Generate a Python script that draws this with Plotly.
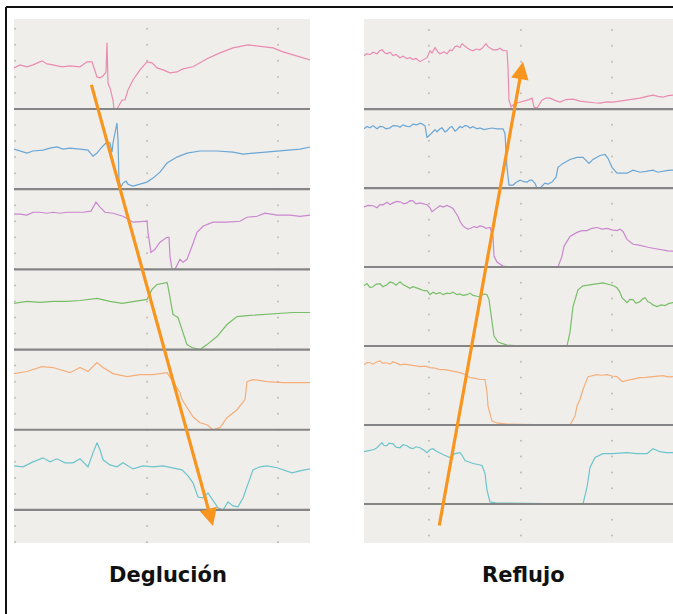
import numpy as np
import plotly.graph_objects as go

W, H = 673, 614

channels = ["Canal 1", "Canal 2", "Canal 3", "Canal 4", "Canal 5", "Canal 6"]
colors = ["#e98bb1", "#6aa6d6", "#c987cf", "#78be69", "#f5ae7a", "#6cc4cc"]

# ---------------- Deglución (swallow) ----------------
sw_t1 = [0,6,13,19,28,33,39,48,56,66,73,78,83,86,89,92,93,94,96,98,99,100,103,108,111,114,119,126,133,138,143,149,156,163,169,179,193,206,219,234,249,259,269,279,289,296]
sw_v1 = [2.56,2.75,2.63,2.75,3.0,2.81,2.75,2.63,2.69,2.63,2.94,2.94,2.0,1.94,2.06,2.3,4.13,1.6,1.31,0.9,0.56,0,0,0.56,0.56,1.19,1.81,2.44,2.94,2.88,2.56,2.44,2.25,2.31,2.5,2.63,3.13,3.5,3.81,4.0,3.88,3.81,3.56,3.38,3.19,3.06]

sw_t2 = [0,6,13,19,29,36,43,49,56,66,74,79,83,88,93,96,98,99,101,103,104,105,107,109,112,114,119,126,133,139,146,153,163,173,186,203,219,229,239,253,269,286,296]
sw_v2 = [2.5,2.38,2.25,2.38,2.44,2.56,2.63,2.5,2.56,2.5,2.44,2.06,2.25,2.63,2.94,2.88,2.31,2.88,3.5,4.13,3.06,0.56,0.13,0.38,0.5,0.31,0.19,0.31,0.44,0.69,1.06,1.63,2.0,2.25,2.38,2.38,2.31,2.19,2.25,2.31,2.44,2.5,2.63]

sw_t3 = [0,6,13,19,26,33,39,46,53,59,69,77,82,86,91,99,109,119,129,133,134,137,141,146,153,155,156,158,161,166,169,173,178,183,189,199,213,226,233,243,251,263,276,286,296]
sw_v3 = [3.44,3.44,3.38,3.56,3.56,3.5,3.56,3.5,3.56,3.56,3.56,3.63,4.19,3.88,3.56,3.5,3.31,2.94,3.0,3.0,2.31,1.06,1.25,1.69,2.0,2.0,0.81,0,0,0.63,0.44,0.63,1.44,2.31,2.69,2.94,2.94,3.0,3.25,3.31,3.5,3.38,3.38,3.31,3.38]

sw_t4 = [0,13,26,39,53,66,83,96,108,119,133,138,143,149,153,154,156,159,164,168,173,178,186,193,203,213,223,236,253,266,279,296]
sw_v4 = [2.88,3.0,2.94,3.0,3.0,3.06,3.19,3.0,2.88,3.0,3.13,3.75,4.06,4.13,4.19,3.94,3.13,2.19,2.0,1.25,0.31,0.13,0,0.31,0.81,1.56,2.06,2.13,2.19,2.25,2.31,2.31]

sw_t5 = [0,13,28,39,56,66,74,83,89,99,113,126,139,153,159,166,168,173,179,186,193,199,206,213,223,231,233,239,253,269,286,296]
sw_v5 = [3.5,3.63,3.94,3.88,3.56,3.88,3.63,4.19,3.88,3.5,3.31,3.44,3.44,3.56,3.0,2.31,1.88,1.38,0.81,0.44,0.31,0,0.13,0.75,1.25,1.88,3.0,3.13,3.0,2.94,2.94,2.94]

sw_t6 = [0,9,19,29,36,43,51,59,66,74,79,83,86,89,96,103,109,119,129,139,149,159,168,174,179,184,189,194,199,204,209,214,219,224,229,234,239,246,253,263,269,278,286,296]
sw_v6 = [2.75,2.69,3.0,3.25,3.0,3.19,2.94,2.94,3.19,2.69,3.56,4.19,3.75,3.13,2.81,2.69,2.94,2.56,2.75,2.69,2.75,2.63,2.5,2.13,1.69,0.81,0.75,1.06,0.63,0.13,0,0.5,0.25,0.19,0.75,1.69,2.5,2.69,2.75,2.63,2.5,2.31,2.44,2.56]

# ---------------- Reflujo (reflux) ----------------
rf_t1 = [0,3,6,9,13,16,18,21,23,26,29,32,36,39,43,46,49,52,56,60,63,66,68,71,74,76,80,83,86,88,91,93,96,98,101,103,106,109,112,116,119,122,124,126,129,133,136,139,143,144,145,147,150,153,157,161,165,168,170,173,178,182,186,191,196,202,209,216,223,230,236,243,249,256,263,270,276,283,289,294,299,304,309]
rf_v1 = [3.38,3.5,3.44,3.6,3.5,3.7,3.75,3.55,3.5,3.6,3.38,3.45,3.25,3.35,3.19,3.25,3.13,3.2,3.0,3.15,3.25,3.69,3.55,3.88,3.6,3.5,3.62,3.5,3.75,3.69,3.95,4.0,3.9,4.13,3.95,3.88,3.75,3.69,3.8,3.75,3.9,4.13,3.95,3.88,3.75,3.75,3.85,3.7,3.69,2.63,0.56,0.13,0.3,0.38,0.45,0.5,0.6,0.69,0.13,0.06,0.56,0.7,0.69,0.55,0.44,0.6,0.63,0.5,0.44,0.4,0.38,0.45,0.44,0.5,0.56,0.6,0.69,0.8,0.88,0.8,0.75,0.85,0.88]

rf_t2 = [0,3,6,9,13,16,19,22,26,29,33,36,39,43,46,49,53,56,58,61,63,66,68,71,73,76,78,81,83,86,88,91,93,96,98,101,103,106,109,113,116,120,123,128,133,137,139,141,143,145,149,152,156,160,163,166,168,171,173,176,179,181,184,188,192,194,199,206,213,219,225,229,236,241,244,248,253,258,263,269,276,282,289,294,299,304,309]
rf_v2 = [3.75,3.9,3.81,3.95,3.75,3.9,3.88,3.75,3.81,3.95,3.94,3.85,4.0,3.9,3.88,4.05,4.0,4.1,4.06,3.94,3.19,3.35,3.5,3.7,3.56,3.75,3.81,3.55,3.63,3.85,3.88,3.6,3.69,3.9,3.81,3.95,3.94,3.8,3.88,3.75,3.81,3.7,3.75,3.8,3.75,3.72,3.75,3.44,1.31,0.19,0.19,0.35,0.5,0.4,0.38,0.5,0.5,0.3,0,0,0.2,0.31,0.25,0.38,0.69,1.31,1.56,1.81,1.94,1.94,1.56,1.81,2.06,2.13,1.88,1.31,0.94,0.95,0.94,1.13,1.0,1.05,1.13,1.0,1.06,1.12,1.13]

rf_t3 = [0,4,9,13,16,19,23,26,29,33,36,40,43,46,49,52,56,60,63,66,68,71,73,76,79,83,86,89,91,94,96,99,101,104,106,110,113,116,119,122,126,129,130,133,139,146,166,194,198,200,206,213,218,223,228,233,238,243,248,253,256,259,263,269,274,279,284,289,294,299,304,309]
rf_v3 = [3.81,3.9,3.88,3.75,3.95,3.94,4.1,3.95,4.06,4.15,4.13,4.0,4.06,4.2,4.19,4.0,4.06,4.0,3.94,3.75,3.5,3.65,3.75,3.88,3.8,3.9,3.81,3.7,3.5,3.2,2.88,2.6,2.5,2.4,2.44,2.56,2.5,2.6,2.56,2.45,2.5,1.94,0.69,0.31,0.06,0,0,0,0.69,1.31,1.94,2.19,2.3,2.31,2.45,2.5,2.4,2.44,2.35,2.31,2.4,2.25,1.75,1.44,1.4,1.31,1.25,1.19,1.12,1.06,1.02,1.0]

rf_t4 = [0,3,6,9,12,16,19,23,26,29,32,36,39,43,46,49,53,56,60,63,66,69,72,76,79,83,86,89,93,96,99,103,106,109,113,116,120,123,125,128,130,134,143,156,169,203,206,209,214,219,224,229,234,239,243,246,250,253,256,258,263,266,269,272,276,279,281,284,286,289,293,297,301,305,309]
rf_v4 = [3.81,3.95,3.7,3.75,3.9,3.94,3.75,3.88,4.05,4.0,3.85,4.06,3.9,3.75,3.65,3.75,3.69,3.6,3.5,3.5,3.25,3.4,3.3,3.38,3.25,3.35,3.31,3.4,3.25,3.3,3.2,3.25,3.35,3.2,3.15,3.13,3.3,3.25,2.94,1.69,0.63,0.25,0.06,0,0,0,0.88,2.5,3.56,3.81,3.85,3.88,3.95,4.0,3.95,3.88,3.8,3.69,3.4,3.06,2.75,2.95,2.94,2.7,2.81,3.0,3.06,2.8,2.75,2.6,2.5,2.6,2.56,2.7,2.75]

rf_t5 = [0,3,6,9,13,16,19,23,26,29,33,36,41,46,51,56,61,66,71,76,81,86,91,96,101,106,111,116,121,123,124,128,133,143,170,206,211,213,216,219,224,228,233,238,243,248,253,258,262,266,271,276,282,289,294,299,304,309]
rf_v5 = [3.81,3.95,3.94,3.85,4.0,4.06,3.9,3.94,3.85,4.0,3.9,3.81,3.85,3.81,3.75,3.69,3.72,3.63,3.6,3.5,3.5,3.44,3.4,3.31,3.2,3.0,2.95,2.88,2.88,2.06,1.19,0.25,0.13,0.06,0.03,0,0.56,1.19,1.63,2.25,3.06,3.1,3.19,3.15,3.19,3.1,3.06,2.75,2.8,2.88,2.9,3.0,3.02,3.06,3.1,3.13,3.05,3.06]

rf_t6 = [0,6,10,13,18,20,23,25,29,32,36,39,43,46,49,52,56,60,63,66,69,72,76,80,86,89,91,96,98,101,105,109,114,118,121,123,126,133,143,180,219,223,226,231,239,249,256,263,273,280,283,289,293,296,302,309]
rf_v6 = [3.31,3.38,3.45,3.56,3.88,3.7,3.69,3.85,3.81,3.6,3.56,3.75,3.69,3.55,3.5,3.62,3.56,3.4,3.25,3.45,3.5,3.35,3.25,3.1,2.94,3.1,3.19,3.25,3.1,2.75,2.65,2.56,2.5,2.44,1.94,0.88,0.13,0.06,0.06,0.03,0,1.06,2.31,2.94,3.19,3.19,3.22,3.25,3.19,3.2,3.19,3.5,3.38,3.31,3.25,3.25]

panel_titles = ["Deglución", "Reflujo"]
swallow = [(sw_t1, sw_v1), (sw_t2, sw_v2), (sw_t3, sw_v3), (sw_t4, sw_v4), (sw_t5, sw_v5), (sw_t6, sw_v6)]
reflux = [(rf_t1, rf_v1), (rf_t2, rf_v2), (rf_t3, rf_v3), (rf_t4, rf_v4), (rf_t5, rf_v5), (rf_t6, rf_v6)]

band = 5  # units per channel band
left_grid_t = [1, 133, 264]
right_grid_t = [65, 157, 248]

fig = go.Figure()

def px_x(px):
    return px / W

def px_y(py):
    return 1 - py / H

# dotted grid (drawn first)
for gt, xa, ya, yr in [(left_grid_t, "x", "y", (-2, 30)), (right_grid_t, "x2", "y2", (-2, 30))]:
    gx, gy = [], []
    for g in gt:
        for yy in range(yr[0], yr[1] + 1):
            gx.append(g)
            gy.append(yy)
    fig.add_trace(go.Scatter(x=gx, y=gy, mode="markers", xaxis=xa, yaxis=ya,
                             marker=dict(size=2, color="#bdbbb7"), hoverinfo="skip",
                             showlegend=False))

# traces
for data, xa, ya in [(swallow, "x", "y"), (reflux, "x2", "y2")]:
    for k, (t, v) in enumerate(data):
        off = (5 - k) * band
        fig.add_trace(go.Scatter(x=t, y=[off + vv for vv in v], mode="lines",
                                 xaxis=xa, yaxis=ya, name=channels[k],
                                 line=dict(color=colors[k], width=1.2),
                                 showlegend=False))

# baselines
shapes = []
for xr, yr in [("x domain", "y"), ("x2 domain", "y2")]:
    for k in range(6):
        shapes.append(dict(type="line", xref=xr, yref=yr, x0=0, x1=1,
                           y0=k * band, y1=k * band,
                           line=dict(color="#858585", width=2.2), layer="above"))

# outer frame
shapes.append(dict(type="line", xref="paper", yref="paper", x0=px_x(6), x1=1.01,
                   y0=px_y(7), y1=px_y(7), line=dict(color="#111", width=2)))
shapes.append(dict(type="line", xref="paper", yref="paper", x0=px_x(6), x1=px_x(6),
                   y0=px_y(7), y1=-0.01, line=dict(color="#111", width=2)))

annotations = [
    dict(xref="x", yref="y", axref="x", ayref="y", x=199, y=-1.0, ax=77, ay=26.6,
         showarrow=True, arrowhead=2, arrowsize=1.1, arrowwidth=3.2,
         arrowcolor="#f8951f", text=""),
    dict(xref="x2", yref="y2", axref="x2", ayref="y2", x=159, y=28.0, ax=75, ay=-1.46,
         showarrow=True, arrowhead=2, arrowsize=1.1, arrowwidth=3.2,
         arrowcolor="#f8951f", text=""),
    dict(xref="paper", yref="paper", x=px_x(168), y=px_y(575), text=panel_titles[0],
         showarrow=False, xanchor="center", yanchor="middle",
         font=dict(family="DejaVu Sans", size=21, color="#111")),
    dict(xref="paper", yref="paper", x=px_x(523), y=px_y(575), text=panel_titles[1],
         showarrow=False, xanchor="center", yanchor="middle",
         font=dict(family="DejaVu Sans", size=21, color="#111")),
]
for a in annotations[2:]:
    a["text"] = "<b>" + a["text"] + "</b>"

ax_common = dict(showgrid=False, zeroline=False, showticklabels=False, ticks="",
                 showline=False, fixedrange=True)
fig.update_layout(
    width=W, height=H,
    margin=dict(l=0, r=0, t=0, b=0),
    paper_bgcolor="white",
    plot_bgcolor="#f0eeea",
    xaxis=dict(domain=[px_x(14), px_x(310)], range=[0, 296], anchor="y", **ax_common),
    yaxis=dict(domain=[px_y(543), px_y(19)], range=[-2.06, 30.61], anchor="x", **ax_common),
    xaxis2=dict(domain=[px_x(364), 1.0], range=[0, 309], anchor="y2", **ax_common),
    yaxis2=dict(domain=[px_y(543), px_y(19)], range=[-2.47, 30.70], anchor="x2", **ax_common),
    shapes=shapes,
    annotations=annotations,
    showlegend=False,
)

fig.write_html("out.html")
